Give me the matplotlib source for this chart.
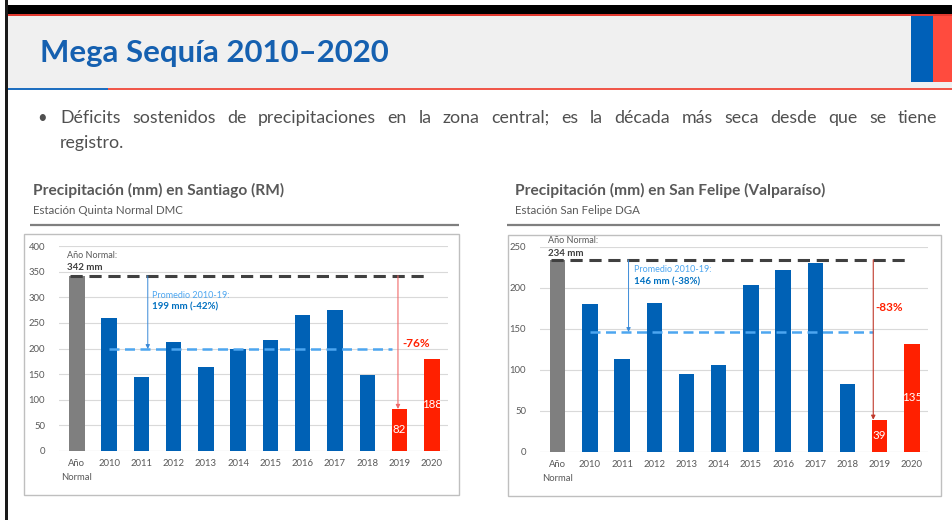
import numpy as np
import matplotlib
matplotlib.use("Agg")
import matplotlib.pyplot as plt
from matplotlib.patches import Rectangle

plt.rcParams['font.family'] = ['Lato', 'DejaVu Sans']

# ---------------- data ----------------
categories = ['Año\nNormal', '2010', '2011', '2012', '2013', '2014', '2015',
              '2016', '2017', '2018', '2019', '2020']

santiago_mm = [342, 260, 145, 213, 163, 200, 216, 266, 276, 149, 82, 180]
santiago_labels = ['82', '188']          # white labels on the red bars
santiago_normal = 342
santiago_mean = 199

sanfelipe_mm = [234, 180, 113, 181, 95, 106, 203, 222, 230, 83, 39, 131]
sanfelipe_labels = ['39', '135']
sanfelipe_normal = 234
sanfelipe_mean = 146

bullet_line1 = ('Déficits sostenidos de precipitaciones en la zona central; es la década '
                'más seca desde que se tiene')
bullet_line2 = 'registro.'

W, H = 953, 520
fig = plt.figure(figsize=(W / 100, H / 100), dpi=100)
fig.patch.set_facecolor('white')

# slide decoration in pixel coordinates
bg = fig.add_axes([0, 0, 1, 1])
bg.set_xlim(0, W)
bg.set_ylim(H, 0)
bg.axis('off')
bg.add_patch(Rectangle((5, 5), W - 5, 9, color='black', lw=0))
bg.add_patch(Rectangle((5, 14), W - 5, 2, color='#e23a30', lw=0))
bg.add_patch(Rectangle((5, 0), 3, H, color='#1a1a1a', lw=0))
bg.add_patch(Rectangle((8, 16), W - 8, 72, color='#f0f0f0', lw=0))
bg.add_patch(Rectangle((8, 88), 100, 2, color='#1f6fc0', lw=0))
bg.add_patch(Rectangle((108, 88), W - 108, 2, color='#f0574a', lw=0))
bg.add_patch(Rectangle((911, 16), 22, 66, color='#0060b8', lw=0))
bg.add_patch(Rectangle((933, 16), 20, 66, color='#ff4b3e', lw=0))

bg.text(40, 53, 'Mega Sequía 2010–2020', fontsize=22.4, fontweight='bold',
        color='#1560b0', va='center', ha='left')

# bullet, first line justified between x=60 and x=937
TXT = '#505050'
bg.text(37, 118, '•', fontsize=12, color=TXT, va='center')
renderer = fig.canvas.get_renderer()
words = bullet_line1.split()
objs = [bg.text(0, 118, w, fontsize=12.8, color=TXT, va='center') for w in words]
widths = [o.get_window_extent(renderer).width for o in objs]
gap = (937 - 60 - sum(widths)) / (len(words) - 1)
xpos = 60
for o, w in zip(objs, widths):
    o.set_x(xpos)
    xpos += w + gap
bg.text(60, 143, bullet_line2, fontsize=12.8, color=TXT, va='center')

# chart headers and frames
for x0, x1, title, sub in [(33, 459, 'Precipitación (mm) en Santiago (RM)', 'Estación Quinta Normal DMC'),
                          (515, 940, 'Precipitación (mm) en San Felipe (Valparaíso)', 'Estación San Felipe DGA')]:
    bg.text(x0, 190, title, fontsize=11.2, fontweight='bold', color='#595959', va='center')
    bg.text(x0, 210, sub, fontsize=8.3, color='#595959', va='center')
    bg.plot([x0 - 3 if x0 < 100 else x0 - 8, x1], [225, 225], color='#7f7f7f', lw=1.6,
            solid_capstyle='butt')

bg.add_patch(Rectangle((24, 234), 435, 261, fill=False, ec='#bfbfbf', lw=1))
bg.add_patch(Rectangle((508, 235), 433, 261, fill=False, ec='#bfbfbf', lw=1))

BLUE = '#0061b5'
RED = '#ff2000'
GRAY = '#7f7f7f'
LIGHT = '#4da6f0'


def draw_chart(ax, values, labels, normal, mean, ymax, ystep, txt, red_arrow_color):
    x = np.arange(len(categories))
    colors = [GRAY] + [BLUE] * 9 + [RED] * 2
    ax.set_xlim(-0.55, 11.5)
    ax.set_ylim(0, ymax)
    ax.set_yticks(np.arange(0, ymax + 1, ystep))
    ax.grid(axis='y', color='#d9d9d9', lw=0.8)
    ax.set_axisbelow(True)
    for s in ax.spines.values():
        s.set_visible(False)
    ax.axhline(0, color='#d9d9d9', lw=0.8)
    ax.tick_params(length=0, labelsize=6.8, colors='#595959', pad=6)
    ax.tick_params(axis='y', pad=10)
    ax.set_xticks(x)
    ax.set_xticklabels(categories, linespacing=1.7, va='top')
    ax.bar(x, values, width=0.48, color=colors, zorder=2)

    # red bar labels
    for xi, v, lab in zip(x[-2:], values[-2:], labels):
        ax.text(xi, v / 2, lab, color='white', fontsize=8.3, ha='center', va='center', zorder=4)

    # normal and mean lines
    ax.plot([-0.2, 10.85], [normal, normal], color='#404040', lw=2.2,
            dashes=(4, 2.2), zorder=3)
    ax.plot([1.0, 9.78], [mean, mean], color=LIGHT, lw=1.8, dashes=(4, 2.2), zorder=3)

    ax.text(-0.3, txt['normal_y'][0], 'Año Normal:', fontsize=6.5, color='#595959',
            va='center', clip_on=False)
    ax.text(-0.3, txt['normal_y'][1], f'{normal} mm', fontsize=7, fontweight='bold',
            color='#404040', va='center', clip_on=False)
    ax.text(txt['prom_x'], txt['prom_y'][0], 'Promedio 2010-19:', fontsize=6.5,
            color=LIGHT, va='center')
    ax.text(txt['prom_x'], txt['prom_y'][1], txt['prom_txt'], fontsize=7,
            fontweight='bold', color='#0070c0', va='center')
    ax.text(txt['pct_x'], txt['pct_y'], txt['pct_txt'], fontsize=8.5, fontweight='bold',
            color=RED, va='center')

    # arrows
    ax.annotate('', xy=(2.2, mean), xytext=(2.2, normal),
                arrowprops=dict(arrowstyle='-|>', color='#3a8ad8', lw=0.7,
                                mutation_scale=6, shrinkA=0, shrinkB=0), zorder=4)
    ax.annotate('', xy=(txt['red_x'], values[10]), xytext=(txt['red_x'], normal),
                arrowprops=dict(arrowstyle='-|>', color=red_arrow_color, lw=0.8,
                                mutation_scale=6, shrinkA=0, shrinkB=0), zorder=4)


ax1 = fig.add_axes([59 / W, 1 - 451 / H, 389 / W, 205 / H])
draw_chart(ax1, santiago_mm, santiago_labels, santiago_normal, santiago_mean, 400, 50,
           dict(normal_y=(382, 359), prom_x=2.33, prom_y=(304, 281),
                prom_txt=f'{santiago_mean} mm (-42%)', pct_x=10.1, pct_y=210,
                pct_txt='-76%', red_x=9.95),
           '#f06a6a')

ax2 = fig.add_axes([540 / W, 1 - 451.7 / H, 388 / W, 205 / H])
draw_chart(ax2, sanfelipe_mm, sanfelipe_labels, sanfelipe_normal, sanfelipe_mean, 250, 50,
           dict(normal_y=(257, 242), prom_x=2.37, prom_y=(221.6, 207),
                prom_txt=f'{sanfelipe_mean} mm (-38%)', pct_x=9.88, pct_y=176,
                pct_txt='-83%', red_x=9.8),
           '#c0392b')

fig.savefig('out.png', dpi=100)
